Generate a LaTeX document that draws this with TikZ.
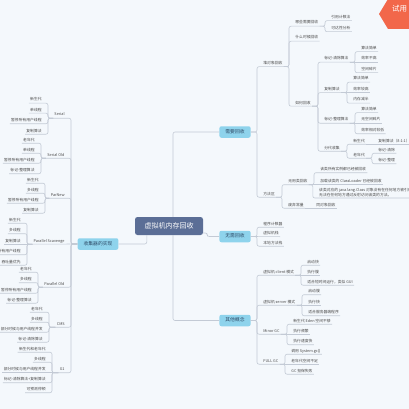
\documentclass[tikz,border=0pt]{standalone}
\usepackage{fontspec}
\setmainfont{Noto Sans CJK SC}
\usetikzlibrary{calc}
\definecolor{bgc}{HTML}{F4F8FC}
\definecolor{linec}{HTML}{C3CAD5}
\definecolor{txtc}{HTML}{4A4A4A}
\definecolor{rootc}{HTML}{5B6E96}
\definecolor{mainc}{HTML}{8ED3EC}
\definecolor{maint}{HTML}{2E4A66}
\definecolor{tagc}{HTML}{F2674A}
\tikzset{
 lf/.style={anchor=west, font=\fontsize{3.8}{5}\selectfont, text=txtc, inner xsep=1.2pt, inner ysep=1.2pt, text height=2.8pt, text depth=0.8pt},
 lfl/.style={lf, anchor=east},
 lftwo/.style={anchor=south west, font=\fontsize{3.8}{5}\selectfont, text=txtc, inner xsep=1.2pt, inner ysep=1.2pt, align=left},
 mainbox/.style={fill=mainc, text=maint, rounded corners=2pt, font=\fontsize{4.8}{6}\selectfont, inner xsep=6pt, minimum height=11.5pt, text height=3.5pt, text depth=1pt},
 rootbox/.style={fill=rootc, text=white, rounded corners=2.5pt, font=\fontsize{7}{8}\selectfont, inner xsep=9.5pt, minimum height=18pt},
 ln/.style={draw=linec, line width=0.6pt, rounded corners=2pt},
}
% right side: parent text -> child
\newcommand\crr[2]{\draw[ln] (#1.south east) -| ($(#2.south west)+(-5,0)$) -- (#2.south east);}
\newcommand\crs[2]{\draw[ln] (#1.south east) -- (#2.south east);}
% right side: main box -> child
\newcommand\cmr[2]{\draw[ln] (#1.east) -| ($(#2.south west)+(-5,0)$) -- (#2.south east);}
% left side
\newcommand\cll[2]{\draw[ln] (#1.south west) -| ($(#2.south east)+(5,0)$) -- (#2.south west);}
\newcommand\cls[2]{\draw[ln] (#1.south west) -- (#2.south west);}
\newcommand\cml[2]{\draw[ln] (#1.west) -| ($(#2.south east)+(5,0)$) -- (#2.south west);}
\begin{document}
\begin{tikzpicture}[x=1pt,y=-1pt]
\fill[bgc] (0,0) rectangle (409,409);
\useasboundingbox (0,0) rectangle (409,409);

% root
\node[rootbox] (root) at (169,226) {虚拟机内存回收};

% ===== 需要回收 =====
\node[mainbox] (r1) at (235,132) {需要回收};
\node[lf] (a1) at (262,63.5) {堆对象回收};
\node[lf] (a11) at (294,23) {哪些需要回收};
\node[lf] (a111) at (330,17.5) {引用计数法};
\node[lf] (a112) at (330,28.5) {可达性分析};
\node[lf] (a12) at (294,38) {什么时候回收};
\node[lf] (a13) at (294,103) {如何回收};
\node[lf] (b1) at (323,59) {标记-清除算法};
\node[lf] (b11) at (360,48.5) {算法简单};
\node[lf] (b12) at (360,59) {效率不高};
\node[lf] (b13) at (360,69.5) {空间碎片};
\node[lf] (b2) at (323,89.5) {复制算法};
\node[lf] (b21) at (352,79) {算法简单};
\node[lf] (b22) at (352,89.5) {效率较高};
\node[lf] (b23) at (352,100) {内存减半};
\node[lf] (b3) at (323,120) {标记-整理算法};
\node[lf] (b31) at (360,109.5) {算法简单};
\node[lf] (b32) at (360,120) {无空间碎片};
\node[lf] (b33) at (360,130.5) {效率相对较低};
\node[lf] (b4) at (323,148) {分代收集};
\node[lf] (b41) at (352,141) {新生代};
\node[lf] (b411) at (377,141) {复制算法（8:1:1）};
\node[lf] (b42) at (352,155) {老年代};
\node[lf] (b421) at (377,150) {标记-清除};
\node[lf] (b422) at (377,160.5) {标记-整理};
\node[lf] (a2) at (262,194) {方法区};
\node[lf] (a21) at (287,181.5) {无用类回收};
\node[lf] (a211) at (319,169.5) {该类所有实例都已经被回收};
\node[lf] (a212) at (319,181.5) {加载该类的 ClassLoader 已经被回收};
\node[lftwo] (a213) at (317.8,198) {该类对应的 java.lang.Class 对象没有在任何地方被引用，\\无法在任何地方通过反射访问该类的方法。};
\node[lf] (a22) at (287,205) {废弃常量};
\node[lf] (a221) at (315,205) {同对象回收};

% ===== 无需回收 =====
\node[mainbox] (r2) at (235,236.5) {无需回收};
\node[lf] (c1) at (262,224) {程序计数器};
\node[lf] (c2) at (262,233.5) {虚拟机栈};
\node[lf] (c3) at (262,243) {本地方法栈};

% ===== 其他概念 =====
\node[mainbox] (r3) at (235,320.5) {其他概念};
\node[lf] (d1) at (262,272) {虚拟机 client 模式};
\node[lf] (d11) at (306,262) {启动快};
\node[lf] (d12) at (306,272) {执行慢};
\node[lf] (d13) at (306,282) {适合短时间运行，类似 GUI};
\node[lf] (d2) at (262,302) {虚拟机 server 模式};
\node[lf] (d21) at (307,291.5) {启动慢};
\node[lf] (d22) at (307,302) {执行快};
\node[lf] (d23) at (307,312.5) {适合服务器端程序};
\node[lf] (d3) at (262,331) {Minor GC};
\node[lf] (d31) at (292,321) {新生代 Eden 空间不够};
\node[lf] (d32) at (292,331) {执行频繁};
\node[lf] (d33) at (292,341.5) {执行速度快};
\node[lf] (d4) at (262,361) {FULL GC};
\node[lf] (d41) at (290,351) {调用 System.gc()};
\node[lf] (d42) at (290,361) {老年代空间不足};
\node[lf] (d43) at (290,371) {GC 担保失败};

% ===== 收集器的实现 =====
\node[mainbox] (L) at (98,244) {收集器的实现};
\node[lfl] (e1) at (66,115) {Serial};
\node[lfl] (e11) at (43,100) {新生代};
\node[lfl] (e12) at (43,110) {单线程};
\node[lfl] (e13) at (43,120.5) {暂停所有用户线程};
\node[lfl] (e14) at (43,131) {复制算法};
\node[lfl] (e2) at (66,155) {Serial Old};
\node[lfl] (e21) at (36,140) {老年代};
\node[lfl] (e22) at (36,150) {单线程};
\node[lfl] (e23) at (36,160) {暂停所有用户线程};
\node[lfl] (e24) at (36,170.5) {标记-整理算法};
\node[lfl] (e3) at (66,195) {ParNew};
\node[lfl] (e31) at (40,180) {新生代};
\node[lfl] (e32) at (40,190) {多线程};
\node[lfl] (e33) at (40,200) {暂停所有用户线程};
\node[lfl] (e34) at (40,210) {复制算法};
\node[lfl] (e4) at (66,241) {Parallel Scavenge};
\node[lfl] (e41) at (22,220) {新生代};
\node[lfl] (e42) at (22,230.5) {多线程};
\node[lfl] (e43) at (22,241) {复制算法};
\node[lfl] (e44) at (22,251.5) {暂停所有用户线程};
\node[lfl] (e45) at (22,262) {吞吐量优先};
\node[lfl] (e5) at (66,284) {Parallel Old};
\node[lfl] (e51) at (33,269) {老年代};
\node[lfl] (e52) at (33,279.5) {多线程};
\node[lfl] (e53) at (33,290) {暂停所有用户线程};
\node[lfl] (e54) at (33,300) {标记-整理算法};
\node[lfl] (e6) at (66,324) {CMS};
\node[lfl] (e61) at (44,309) {老年代};
\node[lfl] (e62) at (44,319) {多线程};
\node[lfl] (e63) at (44,329) {部分时候与用户线程并发};
\node[lfl] (e64) at (44,339) {标记-清除算法};
\node[lfl] (e7) at (66,369.5) {G1};
\node[lfl] (e71) at (47,349) {新生代和老年代};
\node[lfl] (e72) at (47,359) {多线程};
\node[lfl] (e73) at (47,369.5) {部分时候与用户线程并发};
\node[lfl] (e74) at (47,379.5) {标记-清除算法+复制算法};
\node[lfl] (e75) at (47,389.5) {可预测停顿};

% ===== connectors =====
\draw[ln] ($(root.north)+(4,0)$) |- (r1.west);
\draw[ln] ($(root.east)+(0,7)$) -- ++(4,0) |- (r2.west);
\draw[ln] ($(root.south)+(4,0)$) |- (r3.west);
\draw[ln] ($(root.south west)+(12,0)$) |- (L.east);

\cmr{r1}{a1} \cmr{r1}{a2}
\crr{a1}{a11} \crr{a1}{a12} \crr{a1}{a13}
\crr{a11}{a111} \crr{a11}{a112}
\crr{a13}{b1} \crr{a13}{b2} \crr{a13}{b3} \crr{a13}{b4}
\crr{b1}{b11} \crs{b1}{b12} \crr{b1}{b13}
\crr{b2}{b21} \crs{b2}{b22} \crr{b2}{b23}
\crr{b3}{b31} \crs{b3}{b32} \crr{b3}{b33}
\crr{b4}{b41} \crr{b4}{b42}
\crs{b41}{b411}
\crr{b42}{b421} \crr{b42}{b422}
\crr{a2}{a21} \crr{a2}{a22}
\crr{a21}{a211} \crs{a21}{a212} \crr{a21}{a213}
\crs{a22}{a221}

\cmr{r2}{c1} \draw[ln] (r2.east) -- (c2.south east); \cmr{r2}{c3}

\cmr{r3}{d1} \cmr{r3}{d2} \cmr{r3}{d3} \cmr{r3}{d4}
\crr{d1}{d11} \crs{d1}{d12} \crr{d1}{d13}
\crr{d2}{d21} \crs{d2}{d22} \crr{d2}{d23}
\crr{d3}{d31} \crs{d3}{d32} \crr{d3}{d33}
\crr{d4}{d41} \crs{d4}{d42} \crr{d4}{d43}

\cml{L}{e1} \cml{L}{e2} \cml{L}{e3} \draw[ln] (L.west) -- (e4.south west); \cml{L}{e5} \cml{L}{e6} \cml{L}{e7}
\cll{e1}{e11} \cll{e1}{e12} \cll{e1}{e13} \cll{e1}{e14}
\cll{e2}{e21} \cll{e2}{e22} \cll{e2}{e23} \cll{e2}{e24}
\cll{e3}{e31} \cll{e3}{e32} \cll{e3}{e33} \cll{e3}{e34}
\cll{e4}{e41} \cll{e4}{e42} \cls{e4}{e43} \cll{e4}{e44} \cll{e4}{e45}
\cll{e5}{e51} \cll{e5}{e52} \cll{e5}{e53} \cll{e5}{e54}
\cll{e6}{e61} \cll{e6}{e62} \cll{e6}{e63} \cll{e6}{e64}
\cll{e7}{e71} \cll{e7}{e72} \cls{e7}{e73} \cll{e7}{e74} \cll{e7}{e75}

% trial tag
\fill[tagc] (388,-1) -- (379,14) -- (388,29) -- (410,29) -- (410,-1) -- cycle;
\node[font=\fontsize{7.5}{8}\selectfont, text=white, anchor=west, inner sep=0pt] (tag) at (392,9) {试用};
\end{tikzpicture}
\end{document}
